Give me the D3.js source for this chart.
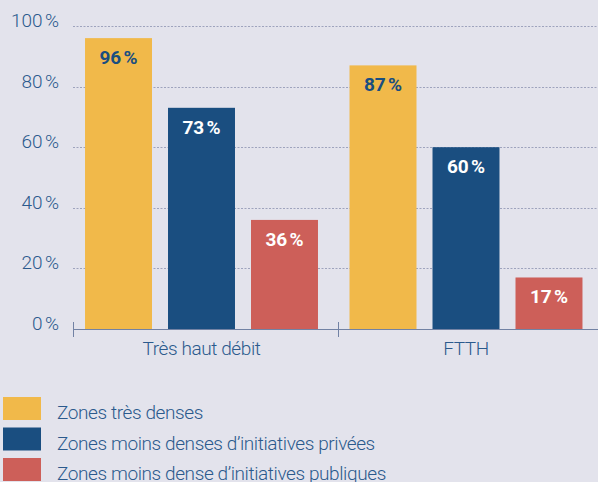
<!DOCTYPE html>
<html lang="fr">
<head>
<meta charset="utf-8">
<script src="https://d3js.org/d3.v7.min.js"></script>
<style>
  body { margin: 0; background: #e3e3ec; }
  svg { display: block; }
  text { font-family: "Roboto", sans-serif; }
</style>
</head>
<body>
<svg width="598" height="482"></svg>
<script>
const groups = ["Très haut débit", "FTTH"];
const series = ["Zones très denses", "Zones moins denses d\u2019initiatives privées", "Zones moins dense d\u2019initiatives publiques"];
const valuesTHD = [96, 73, 36];
const valuesFTTH = [87, 60, 17];
const yTicks = [0, 20, 40, 60, 80, 100];

const colors = ["#f1b94a", "#1a4e80", "#cd5f59"];
const labelColors = ["#1a4e80", "#ffffff", "#ffffff"];
const textColor = "#2b5a8d";

const svg = d3.select("svg");
const data = groups.map((g, i) => ({ group: g, values: [valuesTHD, valuesFTTH][i] }));

const y = d3.scaleLinear().domain([0, 100]).range([329, 26]);
const x0 = d3.scaleBand().domain(groups).range([69.25, 598.25]);
const x1 = d3.scaleBand().domain(d3.range(series.length))
  .range([0, x0.bandwidth()]).paddingInner(0.193).paddingOuter(0.19);

// gridlines
svg.append("g").selectAll("line").data(yTicks.filter(d => d > 0)).join("line")
  .attr("x1", 73).attr("x2", 598)
  .attr("y1", d => Math.round(y(d)) + 0.5).attr("y2", d => Math.round(y(d)) + 0.5)
  .attr("stroke", "#9ea3bd").attr("stroke-width", 1).attr("stroke-dasharray", "2,1.5");

// y labels
svg.append("g").selectAll("text").data(yTicks).join("text")
  .attr("x", 59).attr("y", d => y(d) + 1)
  .attr("text-anchor", "end").attr("fill", textColor)
  .style("font-size", "19px").style("font-weight", 300).style("letter-spacing", "-0.4px")
  .text(d => d + "\u202f%");

// bars
const g = svg.append("g").selectAll("g").data(data).join("g")
  .attr("transform", d => `translate(${x0(d.group)},0)`);

g.selectAll("rect").data(d => d.values).join("rect")
  .attr("x", (d, i) => x1(i)).attr("width", x1.bandwidth())
  .attr("y", d => y(d)).attr("height", d => y(0) - y(d))
  .attr("fill", (d, i) => colors[i]);

g.selectAll("text").data(d => d.values).join("text")
  .attr("x", (d, i) => x1(i) + x1.bandwidth() / 2)
  .attr("y", d => y(d) + 26)
  .attr("text-anchor", "middle")
  .attr("fill", (d, i) => labelColors[i])
  .style("font-size", "19px").style("font-weight", "bold").style("letter-spacing", "-0.3px")
  .text(d => d + "\u202f%");

// x axis
const tickOff = 3.75;
svg.append("line").attr("x1", 73).attr("x2", 598).attr("y1", 329.5).attr("y2", 329.5)
  .attr("stroke", "#7282a4").attr("stroke-width", 1);
svg.append("g").selectAll("line").data(groups).join("line")
  .attr("x1", d => Math.round(x0(d) + tickOff) + 0.5).attr("x2", d => Math.round(x0(d) + tickOff) + 0.5)
  .attr("y1", 322).attr("y2", 337)
  .attr("stroke", "#7282a4");
svg.append("g").selectAll("text").data(groups).join("text")
  .attr("x", d => x0(d) + x0.bandwidth() / 2).attr("y", 355)
  .attr("text-anchor", "middle").attr("fill", textColor)
  .style("font-size", "19px").style("font-weight", 300).style("letter-spacing", "-0.4px")
  .text(d => d);

// legend
const leg = svg.append("g").selectAll("g").data(series).join("g")
  .attr("transform", (d, i) => `translate(3,${397 + i * 30.5})`);
leg.append("rect").attr("width", 38).attr("height", 23).attr("fill", (d, i) => colors[i]);
leg.append("text").attr("x", 54).attr("y", 22).attr("fill", textColor)
  .style("font-size", "19px").style("font-weight", 300).style("letter-spacing", "-0.4px")
  .text(d => d);
</script>
</body>
</html>
